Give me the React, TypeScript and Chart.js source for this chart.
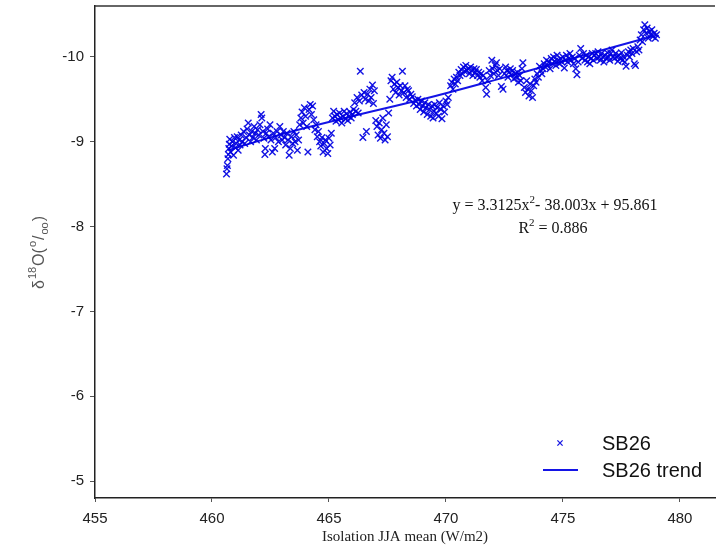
import React, { useEffect, useRef } from "react";
import { Chart, registerables } from "chart.js";

Chart.register(...registerables);

// X ticks and Y ticks
const xTicks = [455, 460, 465, 470, 475, 480];
const yTicks = [-10, -9, -8, -7, -6, -5];

// SB26 scatter (insolation vs δ18O)
const sb26X = [
  460.62, 460.64, 460.66, 460.68, 460.70, 460.72, 460.74, 460.76, 460.80, 460.84, 460.88, 460.92, 460.96, 461.00, 461.04, 461.08, 461.12, 461.16, 461.20, 461.25, 461.30,
  461.35, 461.40, 461.45, 461.50, 461.55, 461.60, 461.65, 461.70, 461.75, 461.80, 461.85, 461.90, 461.95, 462.00, 462.05, 462.10,
  462.13, 462.18, 462.22, 462.26, 462.28, 462.32, 462.38, 462.42, 462.48, 462.52, 462.58, 462.62, 462.68, 462.72, 462.78, 462.84, 462.90, 462.95, 463.00, 463.05, 463.10, 463.15, 463.20, 463.25, 463.30,
  463.35, 463.40, 463.45, 463.50, 463.55, 463.60, 463.65, 463.70, 463.75, 463.80, 463.85, 463.90, 463.95, 464.00, 464.05, 464.10,
  464.15, 464.20, 464.25, 464.30, 464.35, 464.40, 464.45, 464.50, 464.55, 464.60, 464.65, 464.70, 464.75, 464.80, 464.85, 464.90, 464.95, 465.00, 465.05, 465.10, 465.15, 465.20, 465.25, 465.30,
  465.35, 465.40, 465.45, 465.50, 465.55, 465.60, 465.65, 465.70, 465.75, 465.80, 465.85, 465.90, 465.95, 466.00, 466.05, 466.10, 466.15, 466.20, 466.25, 466.30, 466.34, 466.40,
  466.45, 466.50, 466.55, 466.60, 466.65, 466.70, 466.75, 466.80, 466.86, 466.90, 466.94, 467.00, 467.05, 467.10, 467.15, 467.20, 467.25, 467.30, 467.35, 467.40, 467.45, 467.50, 467.55, 467.60,
  467.65, 467.70, 467.75, 467.80, 467.85, 467.90, 467.95, 468.00, 468.05, 468.10, 468.14, 468.20, 468.25, 468.30, 468.35, 468.40, 468.45, 468.50, 468.56, 468.62, 468.68, 468.74,
  468.80, 468.85, 468.90, 468.95, 469.00, 469.05, 469.10, 469.15, 469.20, 469.25, 469.30, 469.35, 469.40, 469.45, 469.48, 469.52, 469.58, 469.62, 469.68, 469.72, 469.78, 469.83, 469.88, 469.94, 470.00, 470.05, 470.10,
  470.20, 470.25, 470.30, 470.35, 470.40, 470.45, 470.50, 470.55, 470.60, 470.65, 470.70, 470.75, 470.80, 470.85, 470.90, 470.95, 471.00, 471.05, 471.10, 471.15, 471.20, 471.25, 471.30, 471.35, 471.40, 471.45, 471.50, 471.55, 471.60,
  471.70, 471.74, 471.78, 471.85, 471.90, 471.96, 472.00, 472.05, 472.10, 472.16, 472.20, 472.25, 472.30, 472.37, 472.44, 472.50, 472.55, 472.60, 472.65, 472.70, 472.75, 472.80, 472.85, 472.90, 472.95, 473.00, 473.05, 473.10, 473.15, 473.20, 473.25, 473.29,
  473.35, 473.40, 473.45, 473.50, 473.55, 473.60, 473.65, 473.70, 473.75, 473.80, 473.85, 473.90, 473.95, 474.00, 474.05, 474.10, 474.15, 474.20, 474.25, 474.30, 474.35, 474.40, 474.45, 474.50,
  474.55, 474.60, 474.65, 474.70, 474.75, 474.80, 474.85, 474.90, 474.95, 475.00, 475.06, 475.10, 475.15, 475.20, 475.25, 475.30, 475.35, 475.40, 475.45, 475.50, 475.55, 475.60, 475.65, 475.70, 475.76, 475.82, 475.88, 475.94, 476.00, 476.05, 476.10, 476.15, 476.20, 476.25,
  476.30, 476.35, 476.40, 476.45, 476.50, 476.55, 476.60, 476.65, 476.70, 476.75, 476.80, 476.85, 476.90, 476.95, 477.00, 477.05, 477.10, 477.15, 477.20, 477.25, 477.30, 477.35, 477.40, 477.45, 477.50, 477.55, 477.60, 477.65, 477.70, 477.75, 477.80, 477.85, 477.90, 477.95, 478.00, 478.05, 478.10, 478.15, 478.20, 478.25,
  478.30, 478.35, 478.40, 478.45, 478.50, 478.55, 478.60, 478.65, 478.70, 478.75, 478.80, 478.85, 478.90, 478.95, 479.00,
];
const sb26Y = [
  -8.62, -8.68, -8.72, -8.80, -8.85, -8.92, -8.97, -9.03, -8.88, -8.95, -9.00, -8.84, -9.05, -8.93, -8.98, -9.06, -8.90, -9.02, -8.96, -9.08, -9.00,
  -9.12, -8.98, -9.05, -9.15, -9.22, -9.08, -9.00, -9.12, -9.05, -9.18, -9.10, -9.02, -9.14, -9.08, -9.20, -9.32,
  -9.28, -9.12, -9.04, -8.85, -8.92, -9.10, -9.15, -9.06, -9.20, -9.02, -8.88, -9.10, -8.92, -9.05, -9.12, -9.00, -9.18, -9.08, -9.02, -9.12, -9.05, -8.96, -9.10, -9.02, -8.84,
  -8.92, -9.06, -8.98, -9.12, -9.00, -9.08, -8.90, -9.02, -9.20, -9.28, -9.35, -9.22, -9.40, -9.30, -9.18, -8.88,
  -9.38, -9.44, -9.32, -9.42, -9.26, -9.14, -9.20, -9.06, -9.12, -9.00, -8.95, -9.05, -8.88, -8.98, -9.02, -8.92, -8.86, -9.04, -8.96, -9.10, -9.28, -9.36, -9.30, -9.24,
  -9.32, -9.26, -9.34, -9.28, -9.22, -9.30, -9.36, -9.27, -9.33, -9.25, -9.30, -9.35, -9.28, -9.32, -9.38, -9.46, -9.36, -9.52, -9.34, -9.48, -9.83, -9.55,
  -9.05, -9.58, -9.50, -9.12, -9.56, -9.48, -9.62, -9.52, -9.67, -9.45, -9.60, -9.25, -9.18, -9.08, -9.22, -9.04, -9.14, -9.28, -9.10, -9.02, -9.20, -9.06, -9.34, -9.50,
  -9.72, -9.76, -9.62, -9.68, -9.58, -9.70, -9.64, -9.55, -9.66, -9.60, -9.83, -9.58, -9.66, -9.52, -9.62, -9.60, -9.50, -9.56, -9.53, -9.45, -9.49, -9.42,
  -9.50, -9.44, -9.38, -9.48, -9.42, -9.35, -9.46, -9.40, -9.32, -9.44, -9.38, -9.30, -9.42, -9.28, -9.36, -9.44, -9.34, -9.40, -9.30, -9.46, -9.38, -9.27, -9.42, -9.35, -9.48, -9.44, -9.52,
  -9.66, -9.70, -9.62, -9.74, -9.68, -9.76, -9.72, -9.82, -9.78, -9.85, -9.80, -9.88, -9.83, -9.90, -9.84, -9.86, -9.80, -9.88, -9.84, -9.78, -9.86, -9.82, -9.85, -9.78, -9.82, -9.76, -9.80, -9.72, -9.78,
  -9.64, -9.56, -9.72, -9.84, -9.78, -9.96, -9.86, -9.80, -9.90, -9.93, -9.84, -9.78, -9.86, -9.65, -9.62, -9.80, -9.88, -9.84, -9.76, -9.82, -9.86, -9.79, -9.84, -9.74, -9.80, -9.76, -9.82, -9.70, -9.78, -9.72, -9.86, -9.93,
  -9.64, -9.58, -9.72, -9.62, -9.54, -9.68, -9.60, -9.52, -9.66, -9.74, -9.70, -9.80, -9.76, -9.89, -9.84, -9.80, -9.86, -9.92, -9.88, -9.96, -9.90, -9.94, -9.86, -9.98,
  -9.92, -10.00, -9.95, -9.90, -10.02, -9.96, -9.92, -9.98, -9.94, -10.00, -9.87, -9.96, -10.02, -9.94, -9.98, -10.04, -9.96, -10.00, -9.92, -9.98, -9.86, -9.79, -9.94, -10.02, -10.10, -9.98, -10.04, -9.96, -10.02, -9.94, -10.00, -9.92, -9.98, -10.04,
  -9.96, -10.02, -10.04, -9.98, -10.06, -10.00, -9.96, -10.04, -10.00, -9.94, -10.02, -9.98, -10.05, -10.00, -9.96, -10.04, -10.08, -10.00, -9.98, -10.04, -10.00, -9.95, -10.02, -9.98, -10.05, -9.96, -10.00, -9.94, -9.89, -10.02, -10.06, -10.00, -10.08, -10.04, -10.10, -9.92, -9.90, -10.06, -10.12, -10.08,
  -10.20, -10.26, -10.18, -10.32, -10.38, -10.28, -10.34, -10.22, -10.30, -10.26, -10.32, -10.24, -10.28, -10.22, -10.26,
];

// SB26 trend line
const trendX = [460.7, 463.0, 466.0, 469.0, 472.0, 475.0, 478.8];
const trendY = [-8.9, -9.09, -9.3, -9.5, -9.72, -9.95, -10.24];

const seriesNames = ["SB26", "SB26 trend"];
const xTitle = "Isolation JJA mean (W/m2)";

const BLUE = "rgba(0,0,225,0.92)";
const LINE_BLUE = "#1414e6";

const decorPlugin = {
  id: "decor",
  afterDraw(chart: any) {
    const ctx = chart.ctx as CanvasRenderingContext2D;
    const area = chart.chartArea;
    ctx.save();
    // top border
    ctx.strokeStyle = "#333";
    ctx.lineWidth = 1.5;
    ctx.beginPath();
    ctx.moveTo(area.left, area.top);
    ctx.lineTo(area.right, area.top);
    ctx.stroke();

    // Y title δ18O(‰) rotated
    const pieces = [
      { t: "δ", size: 16, dy: 0 },
      { t: "18", size: 11, dy: -8 },
      { t: "O(", size: 16, dy: 0 },
      { t: "o", size: 11, dy: -8 },
      { t: "/", size: 16, dy: 0 },
      { t: "oo", size: 11, dy: 4 },
      { t: ")", size: 16, dy: 0 },
    ];
    let total = 0;
    const widths: number[] = [];
    for (const p of pieces) {
      ctx.font = `${p.size}px "Liberation Sans", Arial, sans-serif`;
      const w = ctx.measureText(p.t).width;
      widths.push(w);
      total += w + 1;
    }
    ctx.translate(44, 252);
    ctx.rotate(-Math.PI / 2);
    ctx.fillStyle = "#555";
    ctx.textBaseline = "alphabetic";
    ctx.textAlign = "left";
    let cx = -total / 2;
    pieces.forEach((p, i) => {
      ctx.font = `${p.size}px "Liberation Sans", Arial, sans-serif`;
      ctx.fillText(p.t, cx, p.dy);
      cx += widths[i] + 1;
    });
    ctx.restore();

    // Equation text
    ctx.save();
    ctx.fillStyle = "#111";
    ctx.textBaseline = "alphabetic";
    ctx.textAlign = "left";
    const serif = '"Liberation Serif", "Times New Roman", serif';
    const drawRich = (parts: { t: string; sup?: boolean }[], centerX: number, baseY: number) => {
      let w = 0;
      const ws: number[] = [];
      for (const p of parts) {
        ctx.font = `${p.sup ? 11 : 16}px ${serif}`;
        const m = ctx.measureText(p.t).width;
        ws.push(m);
        w += m;
      }
      let x = centerX - w / 2;
      parts.forEach((p, i) => {
        ctx.font = `${p.sup ? 11 : 16}px ${serif}`;
        ctx.fillText(p.t, x, p.sup ? baseY - 7 : baseY);
        x += ws[i];
      });
    };
    drawRich([{ t: "y = 3.3125x" }, { t: "2", sup: true }, { t: "- 38.003x + 95.861" }], 555, 210);
    drawRich([{ t: "R" }, { t: "2", sup: true }, { t: " = 0.886" }], 553, 233);
    ctx.restore();

    // Legend
    ctx.save();
    ctx.strokeStyle = BLUE;
    ctx.lineWidth = 1.3;
    const mx = 560, my = 443, r = 2.6;
    ctx.beginPath();
    ctx.moveTo(mx - r, my - r);
    ctx.lineTo(mx + r, my + r);
    ctx.moveTo(mx - r, my + r);
    ctx.lineTo(mx + r, my - r);
    ctx.stroke();
    ctx.strokeStyle = LINE_BLUE;
    ctx.lineWidth = 2;
    ctx.beginPath();
    ctx.moveTo(543, 470);
    ctx.lineTo(578, 470);
    ctx.stroke();
    ctx.fillStyle = "#111";
    ctx.font = '20px "Liberation Sans", Arial, sans-serif';
    ctx.textBaseline = "middle";
    ctx.textAlign = "left";
    ctx.fillText(chart.data.datasets[0].label, 602, 444);
    ctx.fillText(chart.data.datasets[1].label, 602, 471);
    ctx.restore();
  },
};

export default function App() {
  const ref = useRef<HTMLCanvasElement | null>(null);
  useEffect(() => {
    if (!ref.current) return;
    const chart = new Chart(ref.current, {
      type: "scatter",
      data: {
        datasets: [
          {
            label: seriesNames[0],
            data: sb26X.map((x, i) => ({ x, y: sb26Y[i] })),
            pointStyle: "crossRot",
            pointRadius: 4.6,
            pointBorderWidth: 1.4,
            borderColor: BLUE,
            backgroundColor: BLUE,
            showLine: false,
          },
          {
            label: seriesNames[1],
            type: "line" as any,
            data: trendX.map((x, i) => ({ x, y: trendY[i] })),
            borderColor: LINE_BLUE,
            borderWidth: 2,
            pointRadius: 0,
            tension: 0.4,
            fill: false,
          },
        ],
      },
      plugins: [decorPlugin],
      options: {
        animation: false,
        responsive: true,
        maintainAspectRatio: false,
        layout: { padding: { top: 6, right: 0, left: 0, bottom: 0 } },
        plugins: {
          legend: { display: false },
          tooltip: { enabled: false },
        },
        scales: {
          x: {
            type: "linear",
            min: 455,
            max: 481.5,
            afterFit: (s: any) => {
              s.height = 50;
              s.paddingLeft = 0;
              s.paddingRight = 0;
            },
            afterBuildTicks: (s: any) => {
              s.ticks = xTicks.map((v) => ({ value: v }));
            },
            grid: { drawOnChartArea: false, drawTicks: true, tickLength: 4, color: "#555" },
            border: { display: true, color: "#222", width: 1.5 },
            ticks: {
              color: "#222",
              padding: 8,
              maxRotation: 0,
              font: { family: '"Liberation Sans", Arial, sans-serif', size: 15 },
              callback: (v: any) => String(v),
            },
            title: {
              display: true,
              text: xTitle,
              color: "#222",
              font: { family: '"Liberation Serif", "Times New Roman", serif', size: 15 },
              padding: { top: 0, bottom: 2 },
            },
          },
          y: {
            type: "linear",
            reverse: true,
            min: -10.6,
            max: -4.8,
            afterFit: (s: any) => {
              s.width = 95;
              s.paddingTop = 0;
              s.paddingBottom = 0;
            },
            afterBuildTicks: (s: any) => {
              s.ticks = yTicks.map((v) => ({ value: v }));
            },
            grid: { drawOnChartArea: false, drawTicks: true, tickLength: 5, color: "#555" },
            border: { display: true, color: "#222", width: 1.5 },
            ticks: {
              color: "#222",
              padding: 6,
              font: { family: '"Liberation Sans", Arial, sans-serif', size: 15 },
              callback: (v: any) => String(v),
            },
          },
        },
      },
    });
    return () => chart.destroy();
  }, []);
  return (
    <div style={{ position: "fixed", left: 0, top: 0, width: 721, height: 548, background: "#fff" }}>
      <canvas ref={ref} />
    </div>
  );
}
